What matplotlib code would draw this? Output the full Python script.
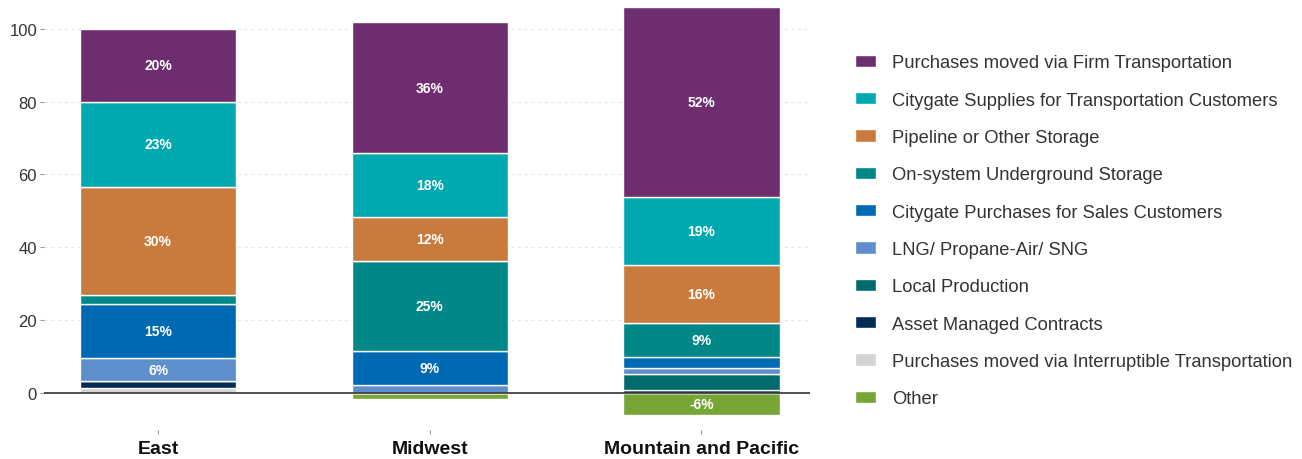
import numpy as np
import matplotlib
matplotlib.use("Agg")
import matplotlib.pyplot as plt

plt.rcParams["font.family"] = ["Liberation Sans", "DejaVu Sans"]

# Regiões e fontes de suprimento (percentual)
regioes = ["East", "Midwest", "Mountain and Pacific"]

fontes = [
    "Purchases moved via Firm Transportation",
    "Citygate Supplies for Transportation Customers",
    "Pipeline or Other Storage",
    "On-system Underground Storage",
    "Citygate Purchases for Sales Customers",
    "LNG/ Propane-Air/ SNG",
    "Local Production",
    "Asset Managed Contracts",
    "Purchases moved via Interruptible Transportation",
    "Other",
]

firme          = [20.0, 36.0, 52.4]
citygate_transp = [23.4, 17.6, 18.6]
pipeline       = [29.8, 12.0, 16.0]
subterraneo    = [2.3, 24.6, 9.2]
citygate_venda = [15.0, 9.3, 3.0]
lng            = [6.3, 2.3, 1.6]
producao_local = [0.0, 0.0, 4.4]
asset_managed  = [1.9, 0.0, 0.9]
interruptivel  = [1.3, 0.0, 0.0]
outros         = [0.0, -1.6, -6.2]

cores = [
    "#6E2D6F",
    "#00A9B0",
    "#C97B3D",
    "#008787",
    "#0069B4",
    "#5E8ECB",
    "#006B6C",
    "#002C55",
    "#D1D3D5",
    "#77A637",
]

series = [firme, citygate_transp, pipeline, subterraneo, citygate_venda,
          lng, producao_local, asset_managed, interruptivel, outros]

fig = plt.figure(figsize=(13.02, 4.6), dpi=100)
ax = fig.add_axes([0.0338, 0.063, 0.5884, 0.937])

x = np.arange(len(regioes))
largura = 0.575

# empilhamento de baixo para cima (ordem inversa da legenda)
base_pos = np.zeros(len(regioes))
base_neg = np.zeros(len(regioes))
barras = {}
for nome, valores, cor in reversed(list(zip(fontes, series, cores))):
    v = np.array(valores)
    base = np.where(v >= 0, base_pos, base_neg)
    barras[nome] = ax.bar(x, v, largura, bottom=base, color=cor,
                          edgecolor="white", linewidth=1.0, label=nome, zorder=3)
    for xi, vi, bi in zip(x, v, base):
        if abs(vi) >= 5:
            ax.text(xi, bi + vi / 2, f"{round(vi):.0f}%", ha="center", va="center",
                    color="white", fontsize=10, fontweight="bold", zorder=4)
    base_pos = base_pos + np.where(v >= 0, v, 0)
    base_neg = base_neg + np.where(v < 0, v, 0)

ax.axhline(0, color="#333333", linewidth=1.2, zorder=5)

ax.set_xlim(-0.42, 2.40)
ax.set_ylim(-10.2, 108.2)
ax.set_yticks([0, 20, 40, 60, 80, 100])
ax.set_xticks(x)
ax.set_xticklabels(regioes, fontsize=14, fontweight="bold", color="#111111")
ax.tick_params(axis="y", labelsize=12, labelcolor="#333333", length=3,
               color="#999999", pad=2)
ax.tick_params(axis="x", length=3, color="#999999", pad=4)
ax.grid(axis="y", linestyle=(0, (3, 3)), color="#E6E6E6", linewidth=0.8, zorder=0)
for s in ax.spines.values():
    s.set_visible(False)

handles = [barras[n] for n in fontes]
ax.legend(handles, fontes, loc="upper left", bbox_to_anchor=(1.049, 0.889),
          frameon=False, fontsize=13.2, labelcolor="#333333",
          handlelength=1.15, handleheight=0.65, handletextpad=0.87,
          labelspacing=1.11, borderaxespad=0)

fig.savefig("out.png", dpi=100)
plt.close(fig)
